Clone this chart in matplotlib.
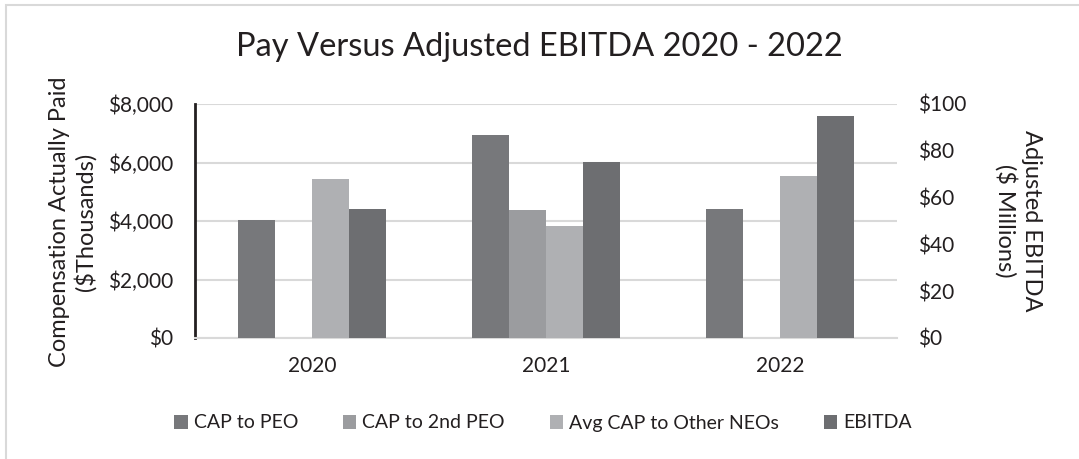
import matplotlib
matplotlib.use("Agg")
import matplotlib.pyplot as plt
from matplotlib.patches import Rectangle
import numpy as np

years = ["2020", "2021", "2022"]
cap_peo = [4050, 6940, 4410]
cap_2nd_peo = [0, 4380, 0]
avg_cap_neos = [5440, 3830, 5550]
ebitda = [55, 75, 95]

left_ticks = [0, 2000, 4000, 6000, 8000]
right_ticks = [0, 20, 40, 60, 80, 100]

c_peo = "#77787b"
c_2nd = "#9b9c9f"
c_avg = "#afb0b3"
c_eb = "#6d6e71"
txt = "#231f20"

plt.rcParams['font.family'] = ['Lato', 'DejaVu Sans']

fig = plt.figure(figsize=(10.79, 4.59), dpi=100)
fig.patches.append(Rectangle((6/1079, -0.1), 1.2, (459-5)/459 + 0.1, transform=fig.transFigure,
                             fill=False, edgecolor="#d9d9d9", linewidth=1.5))
ax = fig.add_axes([195/1079, 1-338/459, (897-195)/1079, (338-104)/459])
ax2 = ax.twinx()

x = np.arange(len(years))
w = 0.158
offs = np.array([-1.5, -0.5, 0.5, 1.5]) * w

b1 = ax.bar(x + offs[0], cap_peo, w, color=c_peo, label="CAP to PEO", zorder=3)
b2 = ax.bar(x + offs[1], cap_2nd_peo, w, color=c_2nd, label="CAP to 2nd PEO", zorder=3)
b3 = ax.bar(x + offs[2], avg_cap_neos, w, color=c_avg, label="Avg CAP to Other NEOs", zorder=3)
b4 = ax2.bar(x + offs[3], ebitda, w, color=c_eb, label="EBITDA", zorder=3)

ax.set_xlim(-0.5, 2.5)
ax.set_ylim(0, 8000)
ax2.set_ylim(0, 100)
ax.set_yticks(left_ticks)
ax.set_yticklabels([f"${v:,}" for v in left_ticks])
ax2.set_yticks(right_ticks)
ax2.set_yticklabels([f"${v}" for v in right_ticks])
ax.set_xticks(x)
ax.set_xticklabels(years)

ax.yaxis.grid(True, color="#d9d9d9", linewidth=1.5, zorder=0)
ax.set_axisbelow(True)
for a in (ax, ax2):
    for s in ("top", "right", "bottom", "left"):
        a.spines[s].set_visible(False)
    a.tick_params(length=0, labelsize=15, colors=txt)
ax.spines["left"].set_visible(True)
ax.spines["left"].set_color(txt)
ax.spines["left"].set_linewidth(2)
ax.spines["bottom"].set_visible(True)
ax.spines["bottom"].set_color("#d9d9d9")
ax.spines["bottom"].set_linewidth(1.5)
ax.tick_params(axis="y", pad=16)
ax.tick_params(axis="x", pad=13)
ax2.tick_params(axis="y", pad=15)

fig.text(0.5, 1-47/459, "Pay Versus Adjusted EBITDA 2020 - 2022", ha="center", va="center",
         fontsize=23.5, color=txt)
fig.text(73/1079, 1-222/459, "Compensation Actually Paid\n($Thousands)", rotation=90,
         ha="center", va="center", fontsize=17, color=txt, linespacing=1.2)
fig.text(1018/1079, 1-221/459, "Adjusted EBITDA\n($ Millions)", rotation=270,
         ha="center", va="center", fontsize=17, color=txt, linespacing=1.2)

handles = [b1, b2, b3, b4]
fig.legend(handles, [h.get_label() for h in handles], loc="center",
           bbox_to_anchor=(543/1079, 1-423/459), ncol=4, frameon=False, fontsize=14,
           handlelength=0.7, handleheight=0.7, handletextpad=0.3, columnspacing=2.3,
           labelcolor=txt)

fig.savefig("out.png", dpi=100)
